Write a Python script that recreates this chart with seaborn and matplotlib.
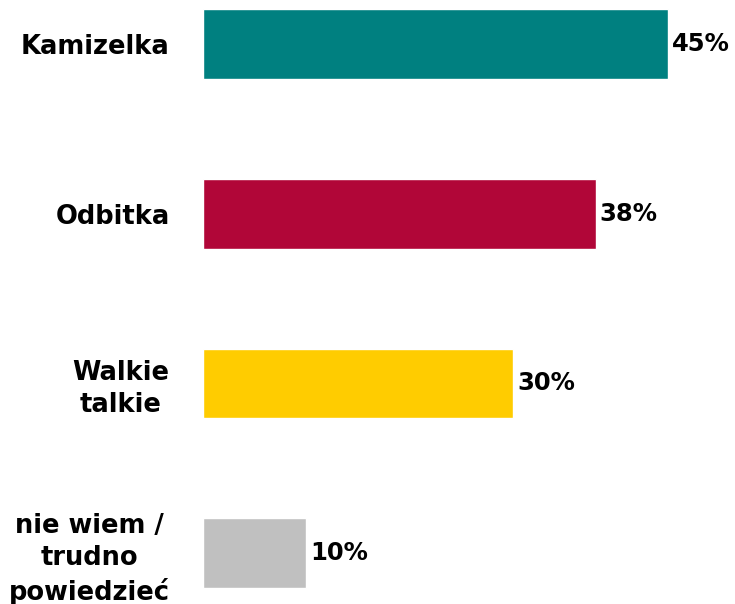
import matplotlib
matplotlib.use("Agg")
import matplotlib.pyplot as plt
import seaborn as sns
import pandas as pd

categories = ["Kamizelka", "Odbitka", "Walkie\ntalkie", "nie wiem /\ntrudno\npowiedzieć"]
values = [45, 38, 30, 10]
colors = ["#008080", "#B10638", "#FFCC00", "#C0C0C0"]

sns.set_theme(style="white")
plt.rcParams["font.family"] = ["DejaVu Sans"]

df = pd.DataFrame({"category": categories, "value": values})

fig = plt.figure(figsize=(7.35, 6.04), dpi=100)
ax = fig.add_axes([0.276, 0.0, 0.724, 1.0])

sns.barplot(data=df, x="value", y="category", hue="category", palette=colors,
            orient="h", width=0.41, legend=False, ax=ax, saturation=1)

ax.set_xlim(0, 51.5)
ax.set_ylim(3.30, -0.26)
ax.set_xlabel("")
ax.set_ylabel("")
ax.set_xticks([])
for s in ax.spines.values():
    s.set_visible(False)

ax.tick_params(axis="y", length=0, pad=24)
for lbl in ax.get_yticklabels():
    lbl.set_fontsize(18.5)
    lbl.set_fontweight("bold")
    lbl.set_multialignment("center")
    lbl.set_linespacing(1.3)
    lbl.set_color("black")

for i, v in enumerate(values):
    ax.annotate(f"{v}%", xy=(v, i), xytext=(3, 0), textcoords="offset points",
                ha="left", va="center", fontsize=17.5, fontweight="bold", color="black")

fig.savefig("out.png", dpi=100)
